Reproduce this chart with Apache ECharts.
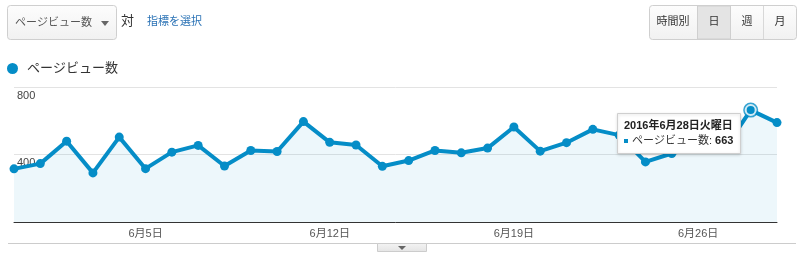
<!DOCTYPE html>
<html><head><meta charset="utf-8">
<script src="https://cdn.jsdelivr.net/npm/echarts@6/dist/echarts.min.js"></script>
<style>html,body{margin:0;padding:0;background:#fff}#c{width:805px;height:258px}</style>
</head><body><div id="c"></div>
<script>
const categories = ['2016-05-31','2016-06-01','2016-06-02','2016-06-03','2016-06-04','2016-06-05','2016-06-06','2016-06-07','2016-06-08','2016-06-09','2016-06-10','2016-06-11','2016-06-12','2016-06-13','2016-06-14','2016-06-15','2016-06-16','2016-06-17','2016-06-18','2016-06-19','2016-06-20','2016-06-21','2016-06-22','2016-06-23','2016-06-24','2016-06-25','2016-06-26','2016-06-27','2016-06-28','2016-06-29'];
const pageviews = [315,346,479,291,503,316,414,454,332,424,418,595,472,456,330,364,424,410,438,563,420,470,549,515,356,406,450,430,663,589];
const xTickLabels = ['6月5日','6月12日','6月19日','6月26日'];
const yTicks = [0,400,800];
const seriesName = 'ページビュー数';
const tooltipIndex = 28;
const weekdays = ['日','月','火','水','木','金','土'];

const FONT = "'Liberation Sans','Noto Sans CJK JP',sans-serif";
const BLUE = '#058dc7';

function shortLabel(s){ const p=s.split('-'); return (+p[1])+'月'+(+p[2])+'日'; }
function longLabel(s){ const p=s.split('-'); const d=new Date(+p[0],+p[1]-1,+p[2]); return (+p[0])+'年'+(+p[1])+'月'+(+p[2])+'日'+weekdays[d.getDay()]+'曜日'; }

const chart = echarts.init(document.getElementById('c'), null, {renderer:'canvas'});
chart.setOption({
  animation:false,
  backgroundColor:'#fff',
  textStyle:{fontFamily:FONT},
  grid:{left:14,right:28,top:87,bottom:36,containLabel:false},
  legend:{left:7,top:62,padding:0,icon:'circle',itemWidth:11,itemHeight:11,
    textStyle:{fontSize:13,color:'#333',fontFamily:FONT,padding:[0,0,0,4]},data:[seriesName]},
  xAxis:{type:'category',data:categories,boundaryGap:false,
    axisLine:{lineStyle:{color:'#333',width:1}},axisTick:{show:false},
    axisLabel:{interval:0,margin:6,fontSize:11,color:'#555',fontFamily:FONT,
      formatter:v=>{const l=shortLabel(v);return xTickLabels.indexOf(l)>=0?l:'';}},
    splitLine:{show:false}},
  yAxis:{type:'value',min:yTicks[0],max:yTicks[yTicks.length-1],interval:yTicks[1]-yTicks[0],
    axisLine:{show:false},axisTick:{show:false},
    axisLabel:{inside:true,margin:3,verticalAlign:'top',padding:[3,0,0,0],fontSize:11,color:'#444',fontFamily:FONT,
      formatter:v=>v===yTicks[0]?'':String(v)},
    splitLine:{lineStyle:{color:'#e3e3e3'}}},
  series:[
    {name:seriesName,type:'line',data:pageviews,symbol:'circle',symbolSize:9,showSymbol:true,
      lineStyle:{color:BLUE,width:4},itemStyle:{color:BLUE},
      areaStyle:{color:'rgba(5,141,199,0.1)'},z:2},
    {type:'scatter',data:[[tooltipIndex,pageviews[tooltipIndex]]],symbolSize:15,itemStyle:{color:BLUE},z:3,silent:true},
    {type:'scatter',data:[[tooltipIndex,pageviews[tooltipIndex]]],symbolSize:10,itemStyle:{color:BLUE,borderColor:'#fff',borderWidth:2},z:4,silent:true}
  ]
});

const pt = chart.convertToPixel({seriesIndex:0},[tooltipIndex,pageviews[tooltipIndex]]);
const tx = Math.round(pt[0]-134), ty = Math.round(pt[1]+3);

const btnGrad = new echarts.graphic.LinearGradient(0,0,0,1,[{offset:0,color:'#fdfdfd'},{offset:1,color:'#f1f1f1'}]);
chart.setOption({graphic:{elements:[
  // dropdown
  {type:'rect',shape:{x:7.5,y:5.5,width:109,height:34,r:3},style:{fill:btnGrad,stroke:'#cfcfcf',lineWidth:1}},
  {type:'text',x:15,y:23,style:{text:'ページビュー数',font:'11px '+FONT,fill:'#555',verticalAlign:'middle'}},
  {type:'polygon',shape:{points:[[101,21],[109,21],[105,26]]},style:{fill:'#666'}},
  {type:'text',x:121,y:21,style:{text:'対',font:'13px '+FONT,fill:'#333',verticalAlign:'middle'}},
  {type:'text',x:147,y:22,style:{text:'指標を選択',font:'11px '+FONT,fill:'#2a72b5',verticalAlign:'middle'}},
  // right buttons
  {type:'rect',shape:{x:649.5,y:5.5,width:147,height:34,r:3},style:{fill:btnGrad,stroke:'#cfcfcf',lineWidth:1}},
  {type:'rect',shape:{x:697.5,y:6,width:33,height:33},style:{fill:'#e4e4e4',stroke:'#cfcfcf',lineWidth:1}},
  {type:'line',shape:{x1:763.5,y1:6,x2:763.5,y2:39},style:{stroke:'#d8d8d8',lineWidth:1}},
  {type:'text',x:673,y:22,style:{text:'時間別',font:'11px '+FONT,fill:'#333',align:'center',verticalAlign:'middle'}},
  {type:'text',x:714,y:22,style:{text:'日',font:'11px '+FONT,fill:'#333',align:'center',verticalAlign:'middle'}},
  {type:'text',x:747,y:22,style:{text:'週',font:'11px '+FONT,fill:'#333',align:'center',verticalAlign:'middle'}},
  {type:'text',x:780,y:22,style:{text:'月',font:'11px '+FONT,fill:'#333',align:'center',verticalAlign:'middle'}},
  // bottom separator and tab
  {type:'line',shape:{x1:8,y1:243.5,x2:796,y2:243.5},style:{stroke:'#ccc',lineWidth:1}},
  {type:'rect',shape:{x:377.5,y:243.5,width:49,height:8},style:{fill:new echarts.graphic.LinearGradient(0,0,0,1,[{offset:0,color:'#f4f4f4'},{offset:1,color:'#e4e4e4'}]),stroke:'#ccc',lineWidth:1}},
  {type:'polygon',shape:{points:[[398,246],[406,246],[402,250]]},style:{fill:'#666'}},
  // tooltip
  {type:'rect',z:100,shape:{x:tx+0.5,y:ty+0.5,width:123,height:40},style:{fill:'#fff',stroke:'#cfcfcf',lineWidth:1,shadowBlur:3,shadowColor:'rgba(0,0,0,0.15)',shadowOffsetY:1}},
  {type:'text',z:101,x:tx+7,y:ty+13,style:{text:longLabel(categories[tooltipIndex]),font:'bold 11px '+FONT,fill:'#222',verticalAlign:'middle'}},
  {type:'rect',z:101,shape:{x:tx+7,y:ty+26,width:4,height:4},style:{fill:BLUE}},
  {type:'text',z:101,x:tx+15,y:ty+28,style:{text:'{a|'+seriesName+': }{b|'+pageviews[tooltipIndex]+'}',verticalAlign:'middle',
    rich:{a:{font:'11px '+FONT,fill:'#333'},b:{font:'bold 11px '+FONT,fill:'#222'}}}}
]}});
</script></body></html>
